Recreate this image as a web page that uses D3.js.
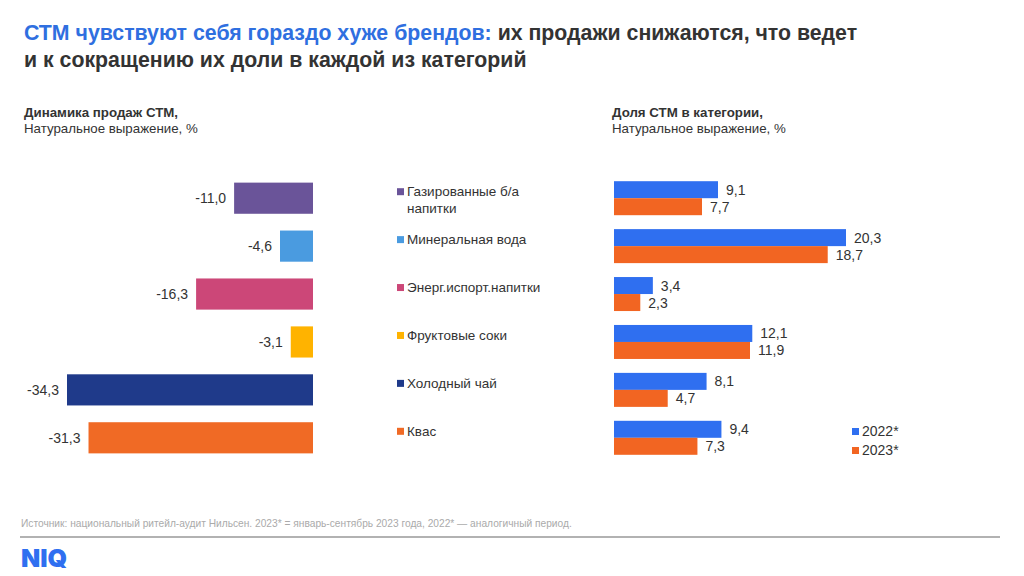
<!DOCTYPE html>
<html><head><meta charset="utf-8">
<script src="https://cdn.jsdelivr.net/npm/d3@7"></script>
<style>body{margin:0;background:#fff;font-family:"Liberation Sans",Arial,sans-serif}</style>
</head><body><div id="chart"></div>
<script>
// data
var categories = ["Газированные б/а напитки", "Минеральная вода", "Энерг.испорт.напитки", "Фруктовые соки", "Холодный чай", "Квас"];
var salesDynamics = [-11.0, -4.6, -16.3, -3.1, -34.3, -31.3];
var share2022 = [9.1, 20.3, 3.4, 12.1, 8.1, 9.4];
var share2023 = [7.7, 18.7, 2.3, 11.9, 4.7, 7.3];
var catColors = ["#6a5499", "#4a9be0", "#cc4778", "#ffb300", "#1f3a8a", "#f06a25"];
var years = ["2022*", "2023*"];
var yearColors = ["#2f6ff0", "#f26522"];

var fmt = function(v) { return d3.format(".1f")(v).replace(".", ",").replace("−", "-"); };

var svg = d3.select("#chart").append("svg").attr("width", 1024).attr("height", 576);

// title
var t = svg.append("text").attr("x", 24).attr("y", 40).attr("font-size", 21.3).attr("font-weight", "bold");
t.append("tspan").attr("fill", "#2f6fe0").text("СТМ чувствуют себя гораздо хуже брендов: ");
t.append("tspan").attr("fill", "#333").text("их продажи снижаются, что ведет");
svg.append("text").attr("x", 24).attr("y", 67).attr("font-size", 21.3).attr("font-weight", "bold")
  .attr("fill", "#333").text("и к сокращению их доли в каждой из категорий");

// subtitles
function subtitle(x, a, b) {
  svg.append("text").attr("x", x).attr("y", 117).attr("font-size", 13.3).attr("font-weight", "bold").attr("fill", "#333").text(a);
  svg.append("text").attr("x", x).attr("y", 133).attr("font-size", 13.3).attr("fill", "#333").text(b);
}
subtitle(24, "Динамика продаж СТМ,", "Натуральное выражение, %");
subtitle(612, "Доля СТМ в категории,", "Натуральное выражение, %");

var y = d3.scaleBand().domain(categories).range([174, 462]).paddingInner(0.35).paddingOuter(0.18);

// left chart
var xl = d3.scaleLinear().domain([-34.3, 0]).range([67, 313]);
var left = svg.append("g");
left.selectAll("rect").data(categories).enter().append("rect")
  .attr("x", (d, i) => xl(salesDynamics[i])).attr("width", (d, i) => xl(0) - xl(salesDynamics[i]))
  .attr("y", d => y(d)).attr("height", y.bandwidth()).attr("fill", (d, i) => catColors[i]);
left.selectAll("text").data(categories).enter().append("text")
  .attr("x", (d, i) => xl(salesDynamics[i]) - 8).attr("y", d => y(d) + y.bandwidth() / 2 + 5)
  .attr("text-anchor", "end").attr("font-size", 14).attr("fill", "#333")
  .text((d, i) => fmt(salesDynamics[i]));

// category legend
var lg = svg.append("g");
categories.forEach(function(c, i) {
  var cy = y(c) + y.bandwidth() / 2 - 6;
  lg.append("rect").attr("x", 397).attr("y", cy - 4).attr("width", 7).attr("height", 7).attr("fill", catColors[i]);
  var lines = i === 0 ? ["Газированные б/а", "напитки"] : [c];
  lines.forEach(function(l, j) {
    lg.append("text").attr("x", 407).attr("y", cy + 4 + j * 17).attr("font-size", 13.5).attr("fill", "#333").text(l);
  });
});

// right chart
var xr = d3.scaleLinear().domain([0, 20.3]).range([614, 846]);
var bh = 17;
var right = svg.append("g");
[share2022, share2023].forEach(function(arr, k) {
  right.selectAll(".b" + k).data(categories).enter().append("rect")
    .attr("x", xr(0)).attr("width", (d, i) => xr(arr[i]) - xr(0))
    .attr("y", d => y(d) + y.bandwidth() / 2 - bh + k * bh).attr("height", bh)
    .attr("fill", yearColors[k]);
  right.selectAll(".t" + k).data(categories).enter().append("text")
    .attr("x", (d, i) => xr(arr[i]) + 8).attr("y", d => y(d) + y.bandwidth() / 2 - bh / 2 + k * bh + 5)
    .attr("font-size", 14).attr("fill", "#333").text((d, i) => fmt(arr[i]));
});

// year legend
years.forEach(function(yr, k) {
  svg.append("rect").attr("x", 852).attr("y", 428 + k * 19).attr("width", 7).attr("height", 7).attr("fill", yearColors[k]);
  svg.append("text").attr("x", 862).attr("y", 436 + k * 19).attr("font-size", 14).attr("fill", "#333").text(yr);
});

// footer
svg.append("text").attr("x", 21).attr("y", 527).attr("font-size", 10.2).attr("fill", "#aaa")
  .text("Источник: национальный ритейл-аудит Нильсен. 2023* = январь-сентябрь 2023 года, 2022* — аналогичный период.");
svg.append("line").attr("x1", 20).attr("x2", 1000).attr("y1", 537).attr("y2", 537).attr("stroke", "#666").attr("stroke-width", 1.2);
svg.append("text").attr("x", 21).attr("y", 567).attr("font-size", 25).attr("font-weight", "900")
  .attr("fill", "#2f6ff0").attr("font-family", "Inter, sans-serif").text("NIQ");
</script></body></html>
